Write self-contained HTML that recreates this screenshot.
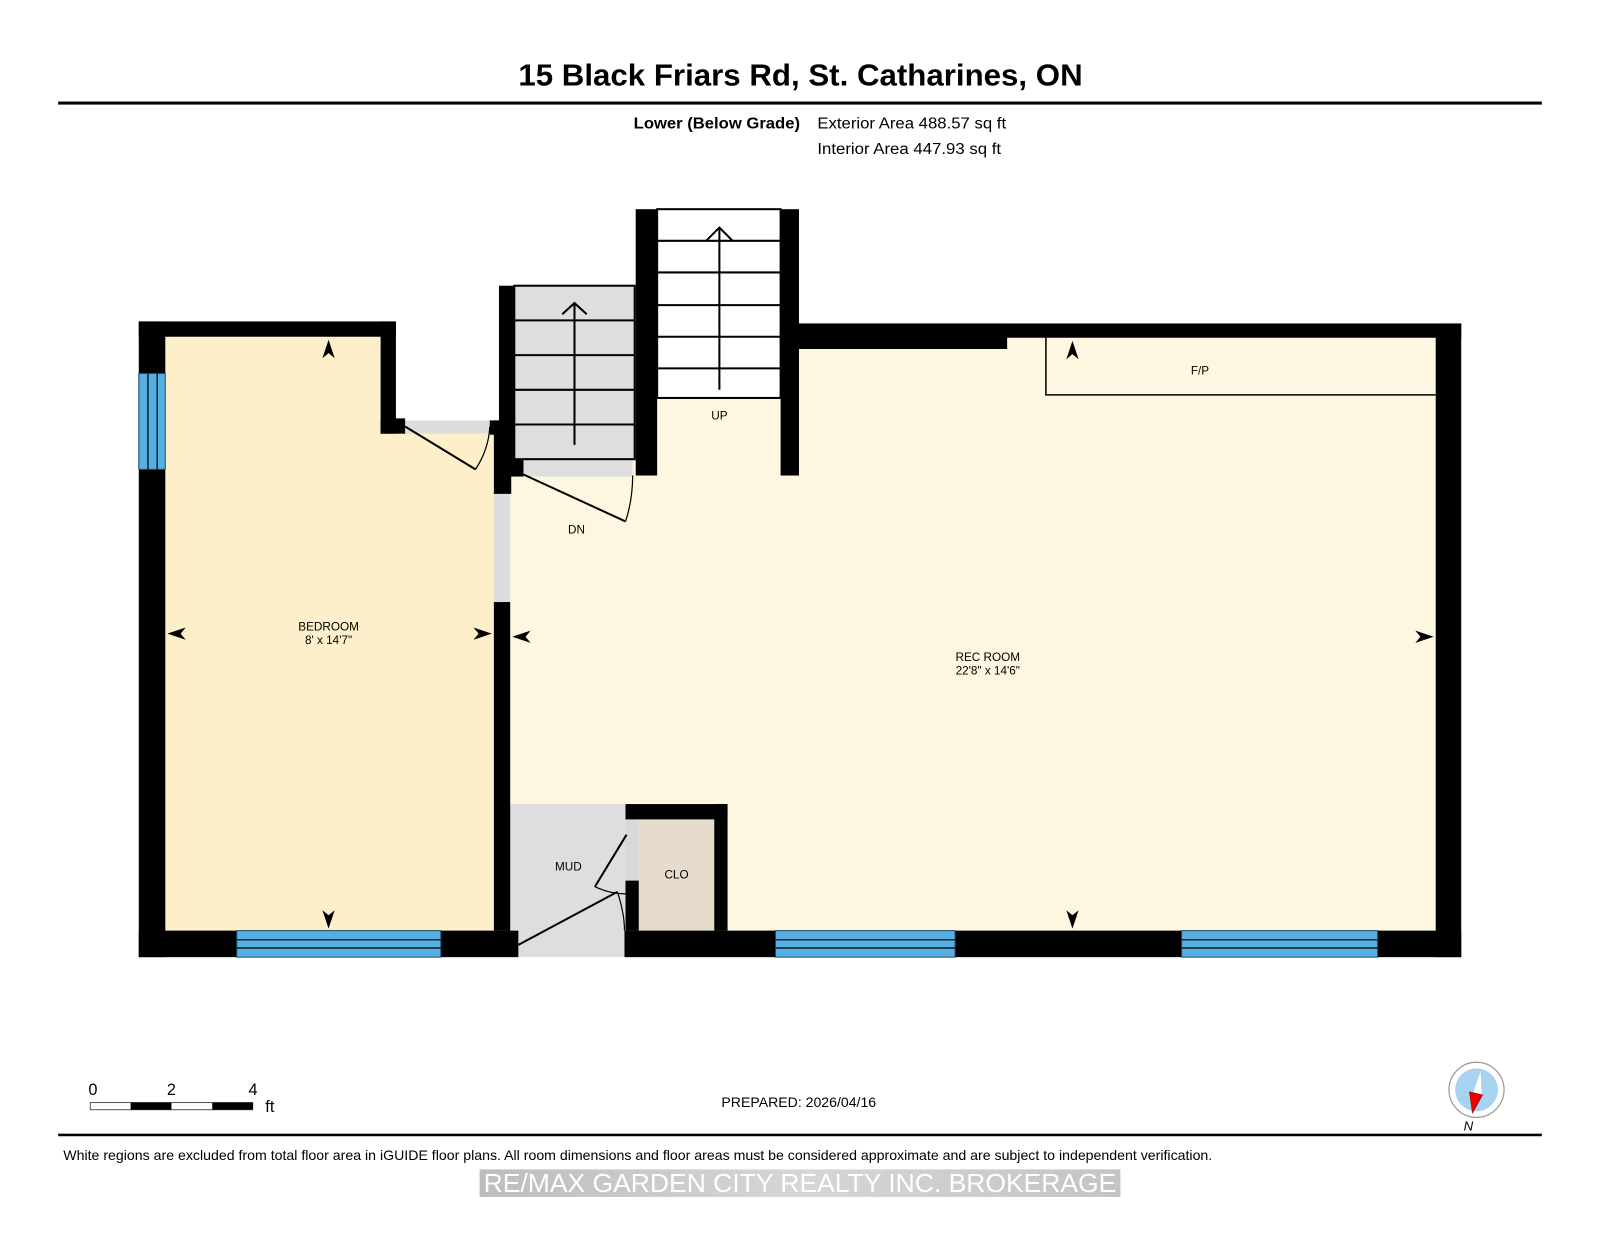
<!DOCTYPE html>
<html><head><meta charset="utf-8"><style>
html,body{margin:0;padding:0;background:#fff;}
svg{display:block;}
text{font-family:"Liberation Sans",Arial,sans-serif;}
</style></head><body>
<svg width="1600" height="1237" viewBox="0 0 1568 1212.25" xmlns="http://www.w3.org/2000/svg">
<rect width="1568" height="1213" fill="#fff"/>
<text x="508" y="84" font-size="30" font-weight="bold" textLength="553" lengthAdjust="spacingAndGlyphs">15 Black Friars Rd, St. Catharines, ON</text>
<rect x="57" y="99.5" width="1454" height="3" fill="#000"/>
<text x="621" y="126" font-size="15.5" font-weight="bold" textLength="163" lengthAdjust="spacingAndGlyphs">Lower (Below Grade)</text>
<text x="801" y="126" font-size="15.5" textLength="185" lengthAdjust="spacingAndGlyphs">Exterior Area 488.57 sq ft</text>
<text x="801" y="151" font-size="15.5" textLength="180" lengthAdjust="spacingAndGlyphs">Interior Area 447.93 sq ft</text>

<!-- fills -->
<path d="M162 330 H373 V425 H484 V912 H162 Z" fill="#fcefc9"/>
<rect x="388" y="412" width="96" height="13" fill="#ddd"/>
<path d="M500 331 H765 V466 H783 V342 H987 V331 H1407 V912 H500 Z" fill="#fdf6e1"/>
<rect x="484" y="483" width="16" height="107" fill="#ddd"/>
<rect x="504" y="280" width="118" height="170" fill="#dedede"/>
<rect x="512" y="450" width="108" height="17" fill="#dedede"/>
<rect x="644" y="205" width="121" height="185" fill="#fff"/>
<rect x="500" y="788" width="113" height="124" fill="#dedede"/>
<rect x="508" y="912" width="104" height="26" fill="#dedede"/>
<rect x="626" y="803" width="74" height="109" fill="#e7dccb"/>
<rect x="613" y="803" width="13" height="60" fill="#d8d8d8"/>

<!-- stairs -->
<g stroke="#000" stroke-width="2" fill="none">
<rect x="504" y="280" width="118" height="170"/>
<line x1="504" y1="314" x2="622" y2="314"/><line x1="504" y1="348" x2="622" y2="348"/><line x1="504" y1="382" x2="622" y2="382"/><line x1="504" y1="416" x2="622" y2="416"/>
<line x1="563" y1="436" x2="563" y2="298"/><polyline points="551,308 563,297 575,308"/>
<rect x="644" y="205" width="121" height="185"/>
<line x1="644" y1="236" x2="765" y2="236"/><line x1="644" y1="267" x2="765" y2="267"/><line x1="644" y1="299" x2="765" y2="299"/><line x1="644" y1="330" x2="765" y2="330"/><line x1="644" y1="361" x2="765" y2="361"/>
<line x1="705" y1="382" x2="705" y2="223"/><polyline points="692,236 705,223 718,236"/>
</g>

<!-- walls -->
<g fill="#000">
<rect x="136" y="315" width="26" height="623"/>
<rect x="136" y="315" width="252" height="15"/>
<rect x="373" y="315" width="15" height="110"/>
<rect x="373" y="410" width="24" height="15"/>
<rect x="136" y="912" width="372" height="26"/>
<rect x="484" y="590" width="16" height="322"/>
<rect x="480" y="412" width="8" height="14"/>
<rect x="484" y="412" width="17" height="72"/>
<rect x="489" y="280" width="15" height="185"/>
<rect x="489" y="450" width="24" height="17"/>
<rect x="623" y="205" width="21" height="261"/>
<rect x="765" y="205" width="18" height="261"/>
<rect x="765" y="317" width="667" height="14"/>
<rect x="783" y="317" width="204" height="25"/>
<rect x="1407" y="317" width="25" height="621"/>
<rect x="612" y="912" width="820" height="26"/>
<rect x="613" y="788" width="100" height="15"/>
<rect x="700" y="788" width="13" height="124"/>
<rect x="613" y="863" width="13" height="49"/>
</g>

<!-- windows -->
<g fill="#57aee0" stroke="#1a4d6a" stroke-width="1">
<rect x="136" y="366" width="26" height="94"/>
<rect x="232" y="912" width="200" height="26"/>
<rect x="760" y="912" width="176" height="26"/>
<rect x="1158" y="912" width="192" height="26"/>
</g>
<g stroke="#000" stroke-width="1.2">
<line x1="145" y1="366" x2="145" y2="460"/><line x1="154" y1="366" x2="154" y2="460"/>
<line x1="232" y1="921" x2="432" y2="921"/><line x1="232" y1="929" x2="432" y2="929"/>
<line x1="760" y1="921" x2="936" y2="921"/><line x1="760" y1="929" x2="936" y2="929"/>
<line x1="1158" y1="921" x2="1350" y2="921"/><line x1="1158" y1="929" x2="1350" y2="929"/>
</g>

<!-- doors -->
<g stroke="#000" fill="none">
<line x1="397" y1="418" x2="466" y2="460" stroke-width="2"/>
<path d="M466 460 Q479 440 480 418" stroke-width="1.2"/>
<line x1="513" y1="465" x2="613" y2="511" stroke-width="2"/>
<path d="M613 511 Q620 490 620 466" stroke-width="1.2"/>
<line x1="508" y1="926" x2="605" y2="874" stroke-width="2"/>
<path d="M605 874 Q612 895 612 912" stroke-width="1.2"/>
<line x1="583" y1="869" x2="614" y2="818" stroke-width="2"/>
<path d="M583 869 Q598 876 613 876" stroke-width="1.2"/>
<path d="M1025 331 V387 H1407" stroke-width="1.5"/>
</g>

<!-- dimension arrows -->
<g fill="#000">
<path d="M322 333 L316 351 L322 346 L328 351 Z"/>
<path d="M322 910 L316 892 L322 897 L328 892 Z"/>
<path d="M164 621 L182 615 L177 621 L182 627 Z"/>
<path d="M482 621 L464 615 L469 621 L464 627 Z"/>
<path d="M502 624 L520 618 L515 624 L520 630 Z"/>
<path d="M1405 624 L1387 618 L1392 624 L1387 630 Z"/>
<path d="M1051 334 L1045 352 L1051 347 L1057 352 Z"/>
<path d="M1051 910 L1045 892 L1051 897 L1057 892 Z"/>
</g>

<!-- labels -->
<g font-size="11.5" text-anchor="middle">
<text x="322" y="618">BEDROOM</text><text x="322" y="631">8' x 14'7"</text>
<text x="968" y="648">REC ROOM</text><text x="968" y="661">22'8" x 14'6"</text>
<text x="1176" y="367">F/P</text>
<text x="705" y="411">UP</text>
<text x="565" y="523">DN</text>
<text x="557" y="853">MUD</text>
<text x="663" y="861">CLO</text>
</g>

<!-- scale bar -->
<g font-size="16">
<text x="91" y="1073" text-anchor="middle">0</text>
<text x="168" y="1073" text-anchor="middle">2</text>
<text x="248" y="1073" text-anchor="middle">4</text>
<text x="260" y="1090">ft</text>
</g>
<rect x="88.5" y="1080.5" width="159" height="7" fill="#fff" stroke="#555" stroke-width="1"/>
<rect x="128" y="1080.5" width="40" height="7" fill="#000"/>
<rect x="208" y="1080.5" width="40" height="7" fill="#000"/>
<text x="707" y="1085" font-size="13.8">PREPARED: 2026/04/16</text>

<!-- compass -->
<circle cx="1447" cy="1068" r="27" fill="#fff" stroke="#999" stroke-width="1.2"/>
<circle cx="1447" cy="1068" r="21" fill="#a8d3f0"/>
<path d="M1451 1050 L1444 1070 L1452 1073 Z" fill="#fff"/>
<path d="M1440 1070 L1453 1073 L1443 1091 Z" fill="#e00" stroke="#800" stroke-width="0.5"/>
<text x="1439" y="1108" font-size="13" font-style="italic" text-anchor="middle">N</text>

<rect x="57" y="1111" width="1454" height="2.5" fill="#000"/>
<text x="62" y="1137" font-size="13.5" textLength="1126" lengthAdjust="spacingAndGlyphs">White regions are excluded from total floor area in iGUIDE floor plans. All room dimensions and floor areas must be considered approximate and are subject to independent verification.</text>

<defs><linearGradient id="wm" x1="0" x2="1" y1="0" y2="0">
<stop offset="0" stop-color="#bdbdbd"/><stop offset="0.5" stop-color="#d6d6d6"/><stop offset="1" stop-color="#c4c4c4"/></linearGradient></defs>
<rect x="470" y="1146" width="628" height="27" fill="url(#wm)"/>
<text x="784" y="1168" font-size="25" fill="#fff" text-anchor="middle" font-family="DejaVu Sans, sans-serif" textLength="620" lengthAdjust="spacingAndGlyphs">RE/MAX GARDEN CITY REALTY INC. BROKERAGE</text>
</svg>
</body></html>
